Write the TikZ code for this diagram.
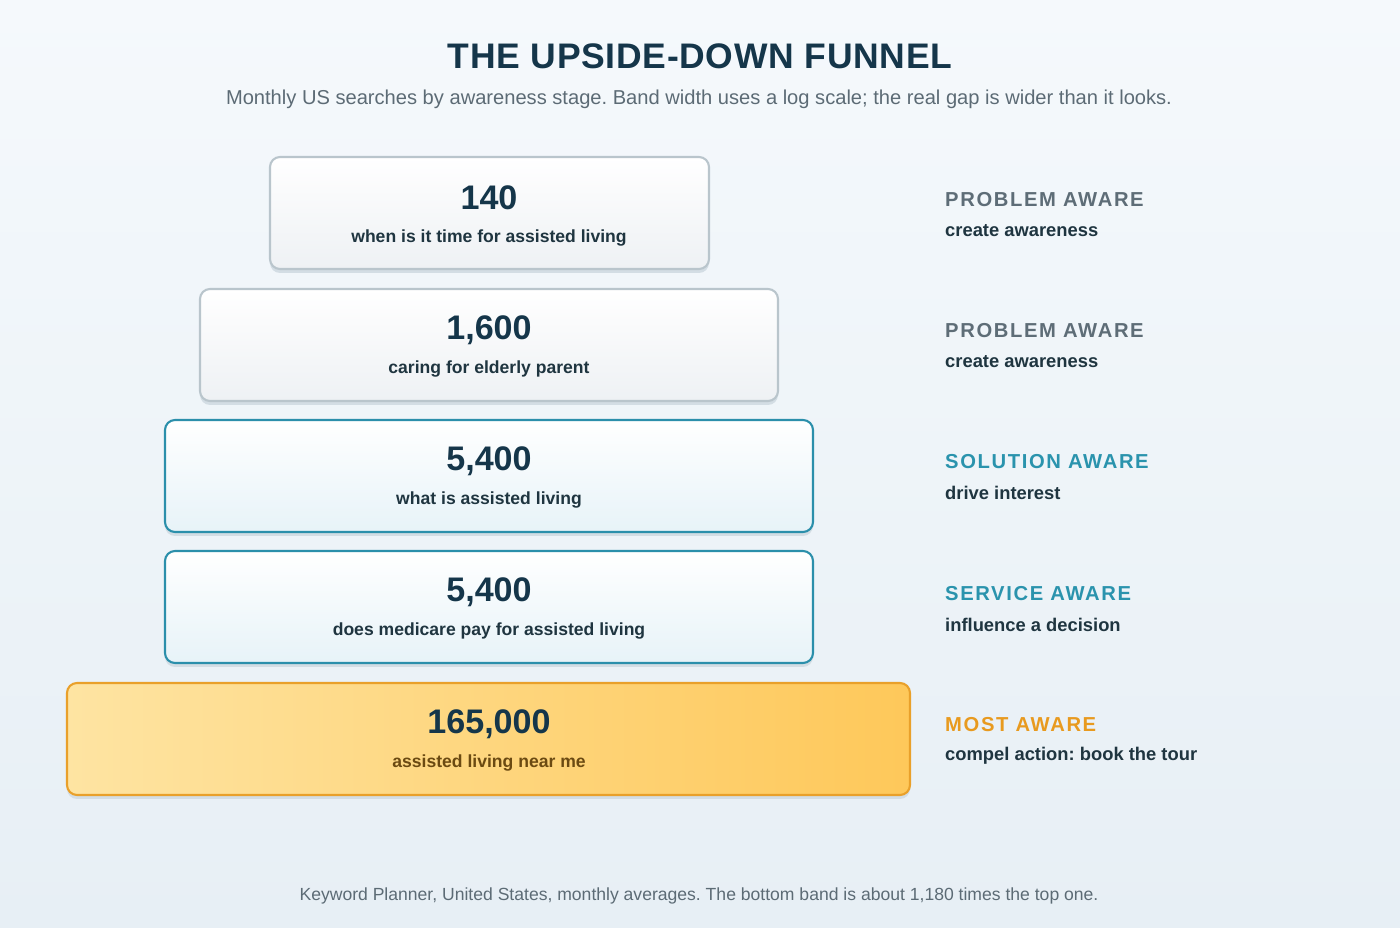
\documentclass[tikz,border=0pt]{standalone}
\usepackage{fontspec}
\setmainfont{Liberation Sans}
\newfontfamily\trackfont[LetterSpace=8]{Liberation Sans}
\newfontfamily\titlefont[LetterSpace=2]{Liberation Sans}
\frenchspacing
\definecolor{bgtop}{HTML}{F5F9FC}
\definecolor{bgbot}{HTML}{E7EFF5}
\definecolor{navy}{HTML}{15364A}
\definecolor{ink}{HTML}{1F3540}
\definecolor{greytext}{HTML}{5C6B75}
\definecolor{greylabel}{HTML}{5E6D77}
\definecolor{teal}{HTML}{2A93AD}
\definecolor{orange}{HTML}{E89A1F}
\definecolor{greyborder}{HTML}{B9C5CC}
\definecolor{tealborder}{HTML}{2B8FAB}
\definecolor{orangeborder}{HTML}{E9A02A}
\definecolor{brown}{HTML}{6B4A12}
\definecolor{shadowc}{HTML}{D3DDE4}
\definecolor{greyfill}{HTML}{EEF1F4}
\definecolor{tealfill}{HTML}{E7F3F8}
\definecolor{goldleft}{HTML}{FEE4A2}
\definecolor{goldright}{HTML}{FEC85A}
\tikzset{
  band/.style={rounded corners=5.7pt, line width=1.2pt},
  greyband/.style={band, draw=greyborder, top color=white, bottom color=greyfill},
  tealband/.style={band, draw=tealborder, top color=white, bottom color=tealfill},
  goldband/.style={band, draw=orangeborder, left color=goldleft, right color=goldright},
  shadowbox/.style={rounded corners=5.7pt, fill=shadowc, draw=none},
  num/.style={font=\fontsize{19.4}{22}\selectfont\bfseries, text=navy, anchor=center},
  qry/.style={font=\fontsize{10}{12}\selectfont\bfseries, text=ink, anchor=center},
  stage/.style={font=\fontsize{11.5}{13}\trackfont\bfseries, anchor=west},
  goal/.style={font=\fontsize{10.45}{12}\selectfont\bfseries, text=ink, anchor=west},
}
\begin{document}
\begin{tikzpicture}[x=0.02cm, y=-0.02cm]
\shade[top color=bgtop, bottom color=bgbot] (0,0) rectangle (1400,928);
\useasboundingbox (0,0) rectangle (1400,928);

\node[font=\fontsize{20.2}{24}\titlefont\bfseries, text=navy] (title) at (700,56) {THE UPSIDE-DOWN FUNNEL};
\node[font=\fontsize{11.45}{13}\selectfont, text=greytext] (subtitle) at (699,99) {Monthly US searches by awareness stage. Band width uses a log scale; the real gap is wider than it looks.};

% shadows
\fill[shadowbox] (270,161) rectangle (709,273);
\fill[shadowbox] (200,293) rectangle (778,405);
\fill[shadowbox] (165,424) rectangle (813,536);
\fill[shadowbox] (165,555) rectangle (813,667);
\fill[shadowbox] (67,687) rectangle (910,799);

% bands
\path[greyband] (270,157) rectangle (709,269);
\path[greyband] (200,289) rectangle (778,401);
\path[tealband] (165,420) rectangle (813,532);
\path[tealband] (165,551) rectangle (813,663);
\path[goldband] (67,683) rectangle (910,795);

\node[num] (n1) at (489,198) {140};
\node[qry] (q1) at (489,238) {when is it time for assisted living};
\node[num] (n2) at (489,330) {1,600};
\node[qry] (q2) at (489,369) {caring for elderly parent};
\node[num] (n3) at (489,461) {5,400};
\node[qry] (q3) at (489,500) {what is assisted living};
\node[num] (n4) at (489,592) {5,400};
\node[qry] (q4) at (489,631) {does medicare pay for assisted living};
\node[num] (n5) at (489,724) {165,000};
\node[qry, text=brown] (q5) at (489,763) {assisted living near me};

\node[stage, text=greylabel] (s1) at (939,200) {PROBLEM AWARE};
\node[goal] (g1) at (939,231) {create awareness};
\node[stage, text=greylabel] (s2) at (939,331) {PROBLEM AWARE};
\node[goal] (g2) at (939,362) {create awareness};
\node[stage, text=teal] (s3) at (939,462) {SOLUTION AWARE};
\node[goal] (g3) at (939,493) {drive interest};
\node[stage, text=teal] (s4) at (939,594) {SERVICE AWARE};
\node[goal] (g4) at (939,625) {influence a decision};
\node[stage, text=orange] (s5) at (939,725) {MOST AWARE};
\node[goal] (g5) at (939,756) {compel action: book the tour};

\node[font=\fontsize{10}{12}\selectfont, text=greytext] (foot) at (699,896) {Keyword Planner, United States, monthly averages. The bottom band is about 1,180 times the top one.};
\end{tikzpicture}
\end{document}
